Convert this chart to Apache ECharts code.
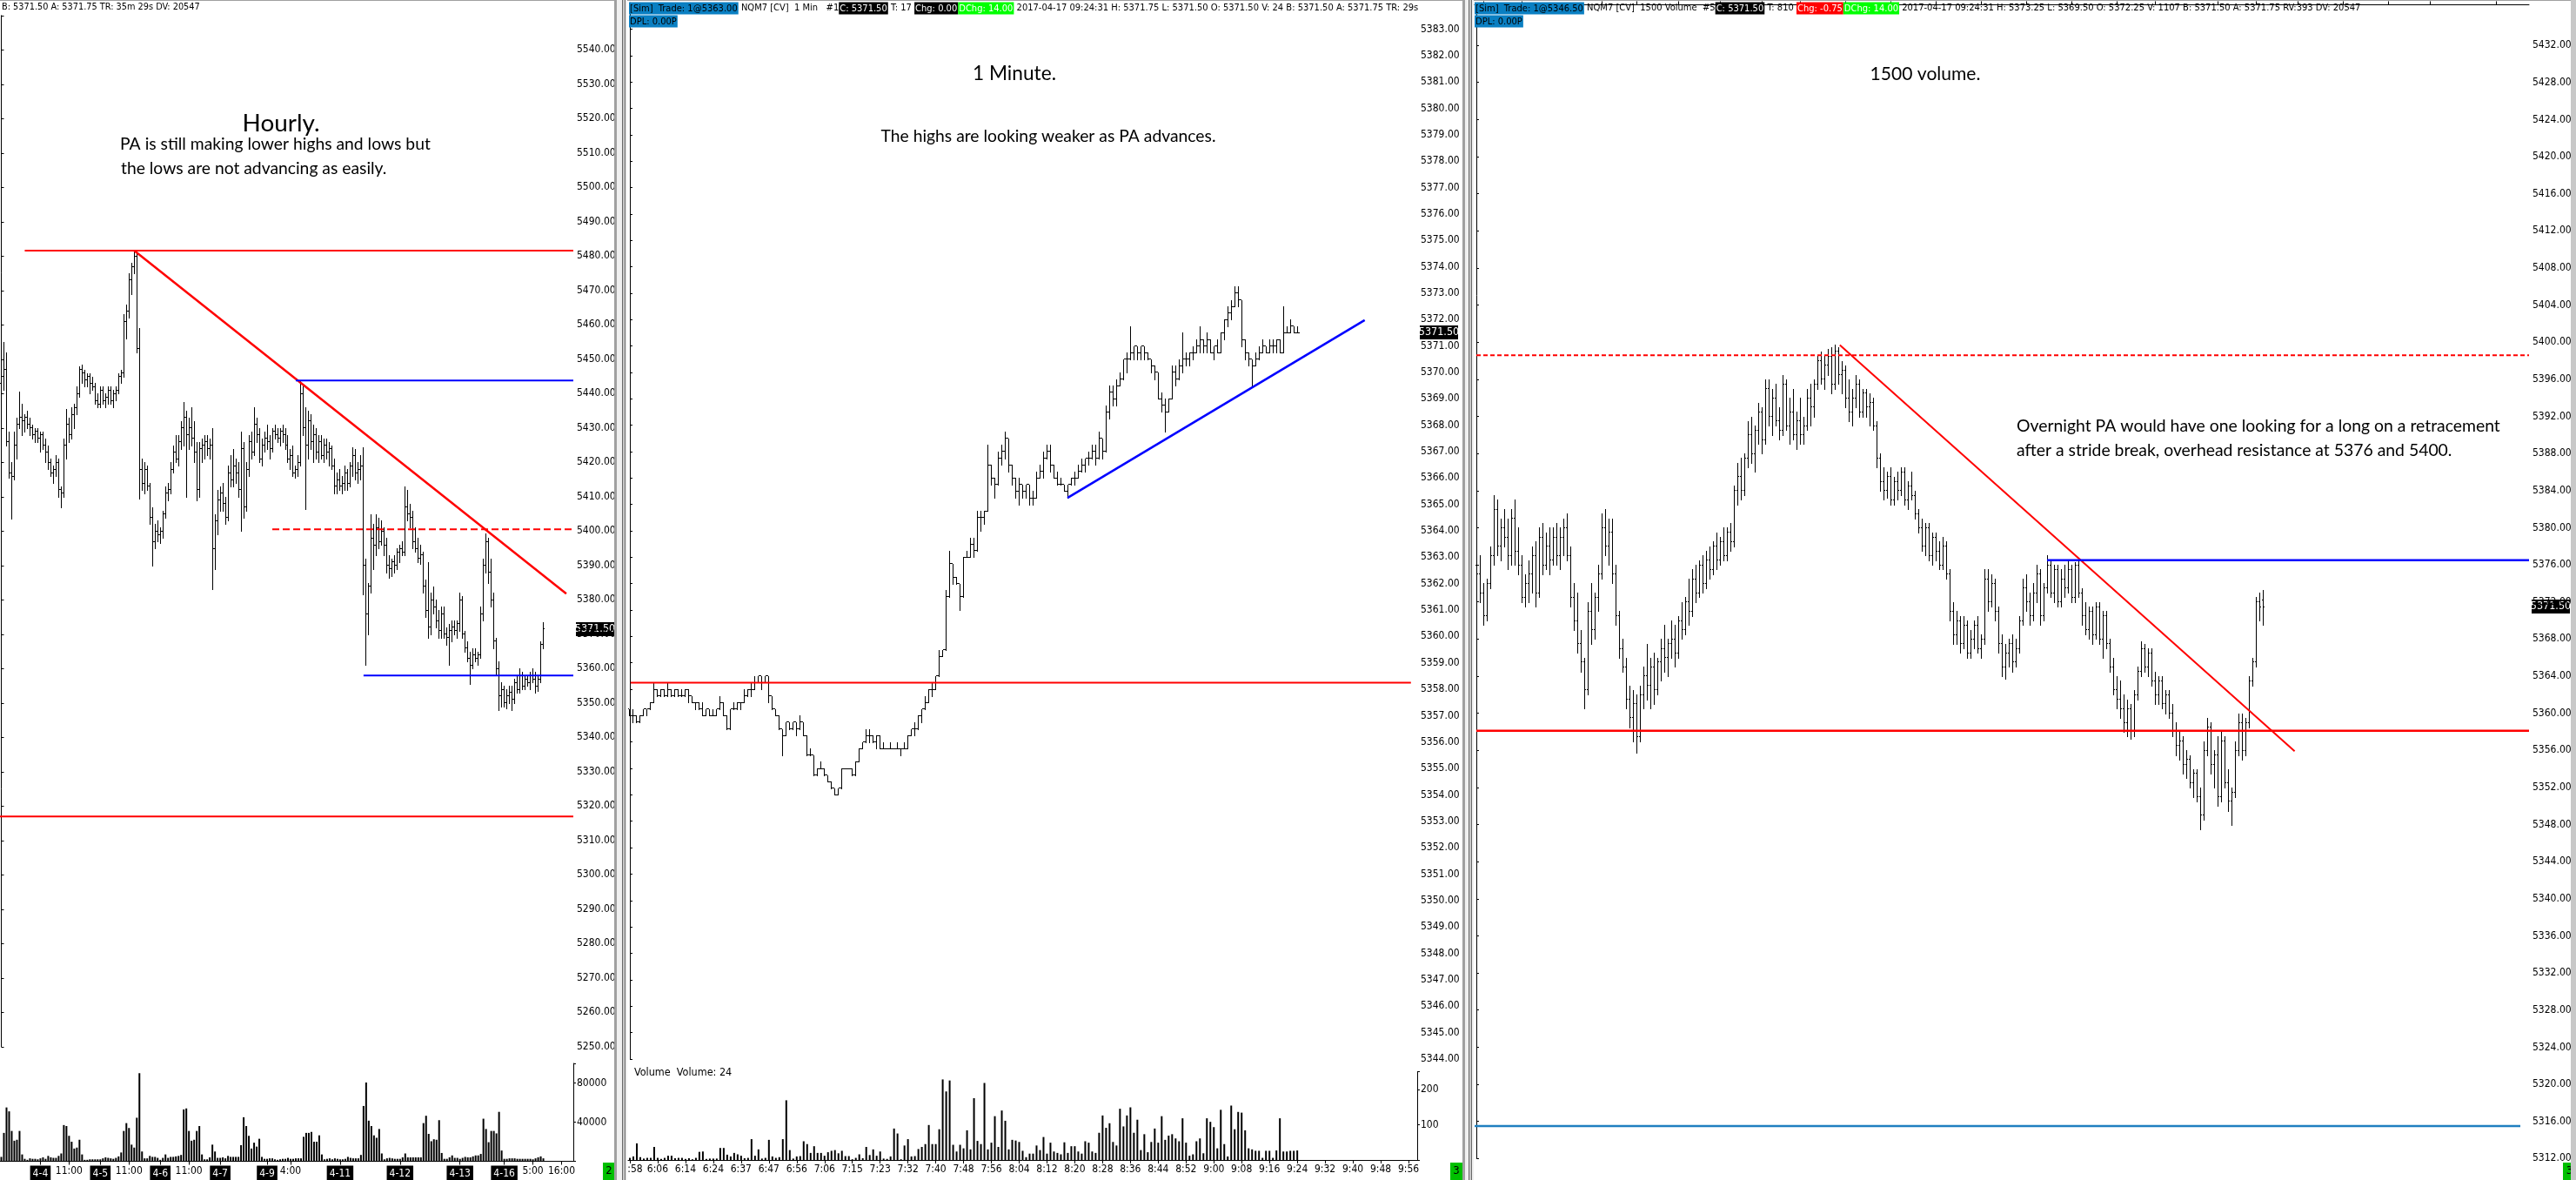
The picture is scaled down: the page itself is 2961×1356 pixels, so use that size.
<!DOCTYPE html>
<html><head><meta charset="utf-8">
<script src="https://cdn.jsdelivr.net/npm/echarts@6/dist/echarts.min.js"></script>
<style>html,body{margin:0;padding:0;background:#fff;overflow:hidden}#c{width:2961px;height:1356px}</style>
</head><body><div id="c"></div><script>
// ---------------- DATA ----------------
// Panel 1: hourly bars [open, high, low, close]
const hourlyBars = [
[5443,5446,5440,5445],[5445,5455,5441,5447],[5447,5452,5425,5426],[5426,5429,5415.5,5417],[5417,5420,5403.5,5416],
[5416,5429,5415,5425],[5425,5433,5421,5431],[5431,5440.5,5430,5433],[5433,5437,5428,5432],[5432,5434,5429,5433],
[5433,5435,5430,5431],[5431,5433,5428,5430],[5430,5431,5427,5428],[5428,5430,5426,5429],[5429,5430,5426,5427],
[5427,5429,5423,5428],[5428,5429,5424,5425],[5425,5427,5420,5423],[5423,5425,5418,5420],[5420,5421,5416,5417],
[5417,5419,5414,5418],[5418,5422,5416,5420],[5420,5421,5410,5412],[5412,5413,5407,5411],[5411,5427,5410,5425],
[5425,5435.5,5421,5431],[5431,5433,5426,5428],[5428,5436,5427,5434],[5434,5437,5430,5436],[5436,5442,5434,5440],
[5440,5448,5439,5447],[5447,5448.5,5443,5446],[5446,5447,5442,5444],[5444,5446,5442,5445],[5445,5446,5440,5443],
[5443,5445,5441,5442],[5442,5443,5437,5438],[5438,5440,5436,5437],[5437,5442,5436,5441],[5441,5442,5437,5438],
[5438,5440,5436,5439],[5439,5442,5437,5441],[5441,5442,5437,5438],[5438,5441,5436,5440],[5440,5442,5438,5441],
[5441,5446,5440,5445],[5445,5447,5443,5446],[5446,5463,5445,5461],[5461,5466,5456,5464],[5464,5475,5462,5473],
[5473,5478,5469,5477],[5477,5481.75,5475,5480],[5480,5481,5452,5453],[5453,5459,5409.5,5418],[5418,5421,5412,5414],
[5414,5420,5411,5418],[5418,5419,5412,5413],[5413,5414,5402,5404],[5404,5407,5390,5397],[5397,5402,5395,5400],
[5400,5403,5397,5399],[5399,5401,5396.5,5400],[5400,5406,5398,5405],[5405,5413,5404,5411],[5411,5414,5409,5412],
[5412,5420,5411,5418],[5418,5425,5417,5423],[5423,5428,5420,5421],[5421,5428,5419,5426],[5426,5432,5424,5430],
[5430,5437.5,5425,5433],[5433,5435,5410,5428],[5428,5433,5424,5430],[5430,5436,5425,5427],[5427,5432,5420,5423],
[5423,5426,5409,5412],[5412,5426,5410,5424],[5424,5427,5420,5425],[5425,5428,5421,5426],[5426,5428,5422,5424],
[5424,5427,5421,5425],[5425,5430,5383,5395],[5395,5405,5389,5403],[5403,5412,5399,5409],[5409,5413,5406,5411],
[5411,5414,5406,5408],[5408,5410,5402,5404],[5404,5419,5403,5417],[5417,5422,5413,5415],[5415,5424,5413,5419],
[5419,5421,5414,5417],[5417,5420,5410,5412],[5412,5429,5400,5424],[5424,5426,5404,5407],[5407,5420,5406,5418],
[5418,5428,5416,5426],[5426,5429,5421,5423],[5423,5436,5422,5431],[5431,5433,5426,5428],[5428,5430,5420,5421],
[5421,5427,5419,5425],[5425,5429,5423,5427],[5427,5431,5424,5426],[5426,5428,5421,5424],[5424,5430,5423,5429],
[5429,5431,5427,5428],[5428,5430,5426,5427],[5427,5430,5425,5429],[5429,5431,5426,5428],[5428,5430,5424,5425],
[5425,5428,5420,5421],[5421,5424,5418,5422],[5422,5425,5416,5417],[5417,5419,5415.5,5418],[5418,5422,5416,5420],
[5420,5443.75,5419,5440],[5440,5442,5428,5430],[5430,5436,5406.5,5425],[5425,5435,5421,5432],[5432,5434,5424,5426],
[5426,5431,5420,5428],[5428,5430,5421,5423],[5423,5428,5420,5426],[5426,5428,5421,5422],[5422,5427,5420,5425],
[5425,5427,5421,5423],[5423,5426,5419,5424],[5424,5425,5418,5419],[5419,5421,5411,5413],[5413,5417,5411,5415],
[5415,5418,5412,5413],[5413,5416,5411,5414],[5414,5419,5412,5417],[5417,5418,5412,5414],[5414,5420,5413,5419],
[5419,5424.5,5416,5422],[5422,5424,5415,5417],[5417,5420,5414,5418],[5418,5422,5415,5419],[5419,5424.5,5381.5,5390],
[5390,5392,5361,5376],[5376,5385,5370,5384],[5384,5405,5382,5398],[5398,5402,5389,5396],[5396,5405,5393,5401],
[5401,5404,5395,5397],[5397,5403,5396,5400],[5400,5401,5393,5396],[5396,5398,5388,5390],[5390,5393,5386.5,5389],
[5389,5392,5387,5391],[5391,5393,5388,5390],[5390,5395,5389,5394],[5394,5396,5391,5395],[5395,5397,5393,5394],
[5394,5413,5393,5407],[5407,5412,5403,5405],[5405,5408,5401,5404],[5404,5406,5395,5397],[5397,5401,5394,5395],
[5395,5398,5391,5392],[5392,5396,5390.5,5393],[5393,5394,5382,5384],[5384,5386,5375,5377],[5377,5391,5369,5372],
[5372,5382,5370,5380],[5380,5384,5376,5378],[5378,5380,5372,5374],[5374,5377,5369,5371],[5371,5378,5369,5376],
[5376,5378,5369,5370],[5370,5372,5367,5369],[5369,5373,5361,5371],[5371,5374,5368,5372],[5372,5374,5370,5371],
[5371,5374,5369,5373],[5373,5382,5371,5380],[5380,5381,5369,5370],[5370,5371,5365,5366],[5366,5368,5362,5363],
[5363,5365,5355.5,5361],[5361,5366,5360,5364],[5364,5366,5362,5363],[5363,5365,5361,5364],[5364,5378,5363,5376],
[5376,5392,5374,5390],[5390,5399.25,5388,5397],[5397,5398,5385,5388],[5388,5392,5378,5380],[5380,5382,5366,5368],
[5368,5369,5358,5360],[5360,5362,5348,5352],[5352,5356,5349,5354],[5354,5355,5349,5350],[5350,5354,5348.5,5352],
[5352,5355,5350,5353],[5353,5355,5348,5351],[5351,5357,5350,5356],[5356,5358,5353,5354],[5354,5360,5353,5358],
[5358,5359,5354,5355],[5355,5358,5354,5357],[5357,5358,5355,5356],[5356,5359,5354,5358],[5358,5360,5356,5357],
[5357,5359,5353,5355],[5355,5358,5353.5,5357],[5357,5368,5356,5367],[5367,5373.5,5366,5371.5]
];
const hourlyVolume = [
4500,29000,55000,51000,31000,21000,22000,31000,7000,2500,1500,3000,2500,2500,2000,3000,4000,2500,5500,4000,
3500,3500,5500,8000,37000,36000,26000,20000,13000,14000,22000,7000,1500,1500,2000,2000,2000,2000,2000,3000,
4000,3500,3000,2500,3500,5000,9000,31000,39000,34000,17000,14000,44500,90000,10000,3000,3000,5500,4500,4500,
3500,1500,3500,7000,3500,4500,4500,5000,5500,6500,53000,54000,31000,21000,22000,31000,36000,7000,2000,2000,
4000,17000,10000,3500,3500,4000,3000,5500,4500,4500,4500,4500,16500,45000,36000,26000,13000,19000,15000,23000,
4500,2500,2500,3000,3000,2000,1500,2000,2500,2500,3500,2500,2500,3000,3000,3000,25000,29000,29000,30000,
20000,20000,26500,7000,2000,2500,3000,2000,3000,2500,2000,2000,2500,4500,3500,3000,3000,3000,6500,56500,
80500,41500,36000,26500,24000,33000,8000,2000,3000,3500,3000,2500,2500,2500,4000,8000,4000,4000,4000,4000,
4000,4000,39000,46500,28000,20500,22500,22000,42000,8500,2500,2500,4000,6000,3500,3500,2500,3500,4500,4000,
4000,5000,6000,6000,7500,43500,33000,19500,31000,31000,28500,50500,11000,2500,2500,3000,3000,3000,2500,2500,
2500,2500,2500,2500,2000,3000,4000,5000,3000
];
const hourlyTickLabels = [[15,'4-4'],[26,'11:00'],[38,'4-5'],[49,'11:00'],[61,'4-6'],[72,'11:00'],[84,'4-7'],[102,'4-9'],
[111,'4:00'],[130,'4-11'],[153,'4-12'],[176,'4-13'],[193,'4-16'],[204,'5:00'],[215,'16:00']];

// Panel 2: 1 minute bars [open, high, low, close]
const minuteBars = [
[5357.25,5357.25,5357,5357],[5357,5357.25,5356.75,5357],[5357,5357,5356.75,5356.75],[5356.75,5357,5356.75,5357],[5357,5357.25,5357,5357.25],
[5357.25,5357.25,5357,5357.25],[5357.25,5357.5,5357.25,5357.5],[5357.5,5358.25,5357.5,5358],[5358,5358,5357.75,5357.75],[5357.75,5358,5357.75,5358],
[5358,5358,5357.75,5357.75],[5357.75,5358.25,5357.75,5358],[5358,5358,5357.75,5357.75],[5357.75,5358,5357.75,5358],[5358,5358,5357.75,5357.75],
[5357.75,5358,5357.75,5357.75],[5357.75,5358,5357.75,5358],[5358,5358,5357.5,5357.75],[5357.75,5357.75,5357.5,5357.5],[5357.5,5357.5,5357.25,5357.5],
[5357.5,5357.5,5357.25,5357.25],[5357.25,5357.5,5357,5357],[5357,5357.25,5357,5357.25],[5357.25,5357.25,5357,5357],[5357,5357.25,5357,5357],
[5357,5357.25,5357,5357.25],[5357.25,5357.75,5357.25,5357.5],[5357.5,5357.5,5357,5357],[5357,5357,5356.5,5356.5],[5356.5,5357.25,5356.5,5357.25],
[5357.25,5357.5,5357.25,5357.25],[5357.25,5357.5,5357.25,5357.5],[5357.5,5357.5,5357.25,5357.5],[5357.5,5358,5357.5,5357.75],[5357.75,5358,5357.75,5358],
[5358,5358.25,5357.75,5358],[5358,5358.5,5358,5358.25],[5358.25,5358.5,5358.25,5358.5],[5358.5,5358.5,5358,5358.25],[5358.25,5358.5,5358.25,5358.5],
[5358.5,5358.5,5357.5,5357.75],[5357.75,5357.75,5357.25,5357.25],[5357.25,5357.25,5357,5357],[5357,5357,5356.5,5356.5],[5356.5,5356.5,5355.5,5356.25],
[5356.25,5356.75,5356.25,5356.75],[5356.75,5356.75,5356.5,5356.5],[5356.5,5356.75,5356.5,5356.75],[5356.75,5356.75,5356.25,5356.5],[5356.5,5357,5356.5,5356.75],
[5356.75,5356.75,5356.25,5356.25],[5356.25,5356.25,5355.5,5355.5],[5355.5,5355.75,5355.5,5355.5],[5355.5,5355.5,5354.75,5354.75],[5354.75,5355,5354.75,5355],
[5355,5355.25,5355,5355],[5355,5355,5354.75,5354.75],[5354.75,5354.75,5354.5,5354.5],[5354.5,5354.5,5354.25,5354.25],[5354.25,5354.25,5354,5354],
[5354,5354.25,5354,5354.25],[5354.25,5355,5354.25,5355],[5355,5355,5355,5355],[5355,5355,5355,5355],[5355,5355,5354.75,5354.75],
[5354.75,5355.25,5354.75,5355.25],[5355.25,5355.75,5355.25,5355.75],[5355.75,5356,5355.75,5356],[5356,5356.5,5356,5356.25],[5356.25,5356.5,5356,5356.25],
[5356.25,5356.25,5356,5356],[5356,5356.25,5355.75,5356.25],[5356.25,5356.25,5355.75,5355.75],[5355.75,5356,5355.75,5355.75],[5355.75,5355.75,5355.75,5355.75],
[5355.75,5356,5355.75,5355.75],[5355.75,5355.75,5355.75,5355.75],[5355.75,5356,5355.75,5355.75],[5355.75,5355.75,5355.5,5355.75],[5355.75,5356,5355.75,5355.75],
[5355.75,5356.25,5355.75,5356.25],[5356.25,5356.5,5356.25,5356.5],[5356.5,5356.75,5356.25,5356.5],[5356.5,5357,5356.5,5357],[5357,5357.25,5356.75,5357.25],
[5357.25,5357.75,5357.25,5357.5],[5357.5,5358,5357.5,5358],[5358,5358.25,5357.75,5358],[5358,5358.5,5358,5358.5],[5358.5,5359.5,5358.5,5359.25],
[5359.25,5359.5,5359.25,5359.5],[5359.5,5361.75,5359.5,5361.5],[5361.5,5363.25,5361.5,5362.75],[5362.75,5362.75,5362,5362.25],[5362.25,5362.25,5362,5362],
[5362,5362,5361,5361.5],[5361.5,5363,5361.5,5363],[5363,5363.25,5363,5363],[5363,5363.75,5363,5363.5],[5363.5,5363.75,5363,5363.25],
[5363.25,5364.75,5363.25,5364.5],[5364.5,5364.75,5364,5364.5],[5364.5,5364.75,5364.25,5364.75],[5364.75,5367.25,5364.75,5366.5],[5366.5,5366.5,5365.75,5366],
[5366,5366,5365.25,5365.75],[5365.75,5367,5365.75,5366.75],[5366.75,5367.25,5366.5,5367],[5367,5367.75,5366.75,5367.5],[5367.5,5367.5,5366.25,5366.5],
[5366.5,5366.5,5365.75,5366],[5366,5366,5365.25,5365.5],[5365.5,5366,5365,5365.75],[5365.75,5365.75,5365.25,5365.5],[5365.5,5365.75,5365.25,5365.75],
[5365.75,5365.75,5365,5365.25],[5365.25,5365.5,5365,5365.25],[5365.25,5366.25,5365.25,5366],[5366,5366.5,5366,5366.25],[5366.25,5367,5366,5366.75],
[5366.75,5367.25,5366.75,5367],[5367,5367.25,5366.25,5366.5],[5366.5,5366.5,5366,5366],[5366,5366.25,5365.75,5365.75],[5365.75,5366,5365.75,5365.75],
[5365.75,5365.75,5365.5,5365.5],[5365.5,5365.75,5365.25,5365.75],[5365.75,5366,5365.75,5366],[5366,5366.25,5365.75,5366],[5366,5366.5,5366,5366.25],
[5366.25,5366.75,5366.25,5366.5],[5366.5,5366.75,5366.25,5366.75],[5366.75,5367,5366.5,5366.75],[5366.75,5367.25,5366.75,5367],[5367,5367.25,5366.5,5366.75],
[5366.75,5367.75,5366.75,5367.5],[5367.5,5367.5,5366.75,5367],[5367,5368.75,5367,5368.5],[5368.5,5369.5,5368.25,5369.25],[5369.25,5369.5,5368.75,5369],
[5369,5369.75,5368.75,5369.5],[5369.5,5370,5369.5,5369.75],[5369.75,5370.5,5369.75,5370.5],[5370.5,5370.75,5370,5370.5],[5370.5,5371.75,5370.5,5370.75],
[5370.75,5371,5370.5,5371],[5371,5371,5370.5,5370.75],[5370.75,5371,5370.5,5371],[5371,5371,5370.5,5370.75],[5370.75,5370.75,5370.5,5370.5],
[5370.5,5370.5,5370,5370.25],[5370.25,5370.25,5369.75,5370],[5370,5370,5369,5369],[5369,5369.25,5368.5,5368.75],[5368.75,5369,5367.75,5368.5],
[5368.5,5369,5368.5,5369],[5369,5370.25,5369,5370],[5370,5370.25,5369.5,5369.75],[5369.75,5370.5,5369.75,5370.25],[5370.25,5371.5,5370,5370.5],
[5370.5,5370.75,5370.25,5370.5],[5370.5,5370.75,5370.25,5370.75],[5370.75,5371,5370.5,5370.75],[5370.75,5371.25,5370.75,5371],[5371,5371.75,5370.75,5371.25],
[5371.25,5371.25,5370.75,5371],[5371,5371.5,5370.75,5371.25],[5371.25,5371.25,5370.75,5370.75],[5370.75,5371,5370.5,5371],[5371,5371.25,5370.75,5370.75],
[5370.75,5371.5,5370.75,5371.5],[5371.5,5372,5371.25,5372],[5372,5372.5,5371.75,5372.25],[5372.25,5372.75,5372,5372.5],[5372.5,5373.25,5372.5,5373],
[5373,5373.25,5372.5,5372.75],[5372.75,5372.75,5371,5371.25],[5371.25,5371.25,5370.5,5370.75],[5370.75,5370.75,5370.25,5370.5],[5370.5,5370.5,5369.5,5370.25],
[5370.25,5370.75,5370.25,5370.5],[5370.5,5371,5370.5,5370.75],[5370.75,5371.25,5370.75,5371],[5371,5371,5370.75,5370.75],[5370.75,5371.25,5370.75,5371],
[5371,5371.25,5370.75,5371],[5371,5371.25,5370.75,5371.25],[5371.25,5371.25,5370.75,5370.75],[5370.75,5372.5,5370.75,5371.5],[5371.5,5371.75,5371.5,5371.5],
[5371.5,5372,5371.5,5371.75],[5371.75,5371.75,5371.5,5371.5],[5371.5,5371.75,5371.5,5371.5]
];
const minuteVolume = [
6,10,47,8,4,6,6,37,6,3,6,12,12,5,6,6,3,5,2,6,23,24,3,4,4,4,34,34,15,10,20,16,12,5,6,59,12,30,4,6,
57,10,6,8,59,169,28,4,10,11,53,45,20,39,20,20,12,22,26,28,19,26,11,11,2,6,16,5,37,14,30,12,24,4,3,10,89,75,2,41,
59,10,11,31,37,45,99,45,45,87,228,194,225,43,24,43,33,84,30,175,54,45,218,30,49,124,37,140,111,30,57,55,51,26,8,18,18,41,28,65,
18,49,24,20,16,50,20,39,39,24,18,53,49,24,20,77,126,91,104,51,41,145,95,126,149,77,114,28,73,22,51,89,49,124,57,69,73,61,53,118,
49,12,16,53,61,19,118,108,93,33,142,45,10,154,87,136,134,84,33,30,26,26,6,26,26,6,27,118,24,24,26,26,27
];
const minuteTickLabels = [':58','6:06','6:14','6:24','6:37','6:47','6:56','7:06','7:15','7:23','7:32','7:40','7:48','7:56','8:04',
'8:12','8:20','8:28','8:36','8:44','8:52','9:00','9:08','9:16','9:24','9:32','9:40','9:48','9:56'];

// Panel 3: 1500 volume bars [open, high, low, close]
const volBars = [
[5376,5378.5,5374,5375],[5375,5377,5372,5373],[5373,5374,5369.5,5370.5],[5370.5,5374.5,5370,5374],[5374,5378,5373.5,5377],
[5377,5383.5,5376,5382],[5382,5383,5377,5378],[5378,5381,5376.5,5380],[5380,5382,5378,5379],[5379,5381,5375.5,5377],
[5377,5382,5376,5381],[5381,5383,5376,5377.5],[5377.5,5380,5375,5376],[5376,5377,5372,5372.5],[5372.5,5375,5371.5,5374],
[5374,5376.5,5372,5375],[5375,5378,5373,5377],[5377,5378.5,5371.5,5373],[5373,5380,5372.5,5379],[5379,5380.5,5375,5376],
[5376,5379.5,5375.5,5378],[5378,5380,5375,5376.5],[5376.5,5380,5376,5379],[5379,5380.5,5376,5377],[5377,5380,5375.5,5379],
[5379,5381,5377,5380],[5380,5381.5,5376.5,5377],[5377,5378,5371.5,5372.5],[5372.5,5374,5369,5370],[5370,5373,5366.5,5367.5],
[5367.5,5369,5364.5,5365.5],[5365.5,5366,5360.5,5362.5],[5362.5,5372,5362,5371],[5371,5374,5367.5,5369],[5369,5373,5368,5372.5],
[5372.5,5376,5371,5375],[5375,5381.5,5374.5,5380],[5380,5382,5377,5378],[5378,5381,5376,5379.5],[5379.5,5381,5374,5375],
[5375,5376,5369.5,5370.5],[5370.5,5371,5366,5367],[5367,5368,5364.5,5365],[5365,5366,5360.5,5361.5],[5361.5,5363,5358.5,5359.5],
[5359.5,5362.5,5357,5361],[5361,5362,5355.75,5357.5],[5357.5,5363,5357,5362],[5362,5365,5360.5,5364],[5364,5367.5,5361.5,5363],
[5363,5366,5360.5,5365],[5365,5366.5,5361,5362.5],[5362.5,5366,5362,5365.5],[5365.5,5368,5363.5,5367],[5367,5369.5,5364.5,5366],
[5366,5368,5364,5367.5],[5367.5,5370,5366,5368],[5368,5369.5,5365,5366.5],[5366.5,5370.5,5366,5370],[5370,5372,5368,5369],
[5369,5372.5,5368.5,5372],[5372,5374.5,5369.5,5371],[5371,5375.5,5370.5,5374.5],[5374.5,5376,5372,5373],[5373,5376.5,5372.5,5376],
[5376,5377,5373,5374],[5374,5377.5,5373.5,5376.5],[5376.5,5378,5374.5,5375.5],[5375.5,5378.5,5375,5378],[5378,5379.5,5375.5,5376.5],
[5376.5,5379,5376,5378.5],[5378.5,5380,5376.5,5377],[5377,5380,5376.5,5379.5],[5379.5,5380.5,5377.5,5378.5],[5378.5,5384.5,5378,5384],
[5384,5387,5382.5,5385.5],[5385.5,5387.5,5383,5384],[5384,5388,5383.5,5387.5],[5387.5,5391.5,5386.5,5390],[5390,5392,5387,5388],
[5388,5391,5386,5390.5],[5390.5,5393.5,5389,5392.5],[5392.5,5393,5388,5389.5],[5389.5,5396,5389,5395],[5395,5396,5391,5392],
[5392,5395,5390,5394],[5394,5395.5,5391,5391.5],[5391.5,5393,5389.5,5390.5],[5390.5,5396.5,5390,5395.5],[5395.5,5396,5390.5,5391],
[5391,5394,5389,5392.5],[5392.5,5395,5389.5,5390],[5390,5392.5,5388.5,5391.5],[5391.5,5394,5389,5390],[5390,5392,5389,5391],
[5391,5395,5390.5,5394],[5394,5395.5,5391,5393],[5393,5396,5392,5395.5],[5395.5,5398.5,5395,5398],[5398,5399,5395.5,5396],
[5396,5398.5,5395,5397.5],[5397.5,5399.25,5396.5,5398.5],[5398.5,5399.5,5394.5,5395.5],[5395.5,5399.75,5395,5399],[5399,5399.5,5395.5,5396.5],
[5396.5,5398,5394.5,5397],[5397,5397.5,5393,5394],[5394,5396,5391.5,5392.5],[5392.5,5395,5391,5394],[5394,5396.5,5393,5395.5],
[5395.5,5396,5392,5392.5],[5392.5,5395,5392,5394.5],[5394.5,5395,5392,5393],[5393,5394.5,5391,5393.5],[5393.5,5394,5390.5,5391],
[5391,5391.5,5386.5,5387.5],[5387.5,5388,5384,5385],[5385,5386.5,5383,5384],[5384,5386,5383.25,5385.5],[5385.5,5386.5,5382.5,5383],
[5383,5385.5,5382.5,5385],[5385,5386,5383,5384],[5384,5386.5,5383.5,5386],[5386,5386.5,5382.5,5383],[5383,5385,5382,5384.5],
[5384.5,5386,5383,5383.5],[5383.5,5384,5381,5381.5],[5381.5,5382,5379.5,5380],[5380,5381,5377.5,5378],[5378,5380.5,5377,5380],
[5380,5380.5,5376.5,5377],[5377,5379.5,5376,5379],[5379,5379.5,5376.5,5377.5],[5377.5,5378.5,5375.5,5376],[5376,5379,5375.5,5378],
[5378,5378.5,5374.5,5375],[5375,5375.5,5370,5371],[5371,5372,5367.5,5368.5],[5368.5,5371,5367.5,5370],[5370,5370.5,5366.5,5367.5],
[5367.5,5370.5,5367,5369.5],[5369.5,5370,5366,5366.5],[5366.5,5369,5366,5368],[5368,5370,5367,5369.5],[5369.5,5370.5,5366.5,5367],
[5367,5368.5,5366,5368],[5368,5375.5,5367.5,5374.5],[5374.5,5375.5,5371,5372],[5372,5375,5371.5,5374],[5374,5374.5,5370,5371],
[5371,5371.5,5366.5,5367.5],[5367.5,5368.5,5364,5365],[5365,5367.5,5363.75,5366.5],[5366.5,5368,5365,5367.5],[5367.5,5368.5,5364.5,5365.5],
[5365.5,5368,5365,5367],[5367,5370.5,5366.5,5370],[5370,5374.5,5369.5,5373.5],[5373.5,5375,5371,5372],[5372,5373,5369.5,5370.5],
[5370.5,5374,5370,5373],[5373,5376,5372,5375],[5375,5375.5,5369.5,5370.5],[5370.5,5374,5370,5373.5],[5373.5,5377,5373,5376],
[5376,5376.5,5372.5,5373],[5373,5376,5372,5375.5],[5375.5,5376,5371.5,5372],[5372,5375.5,5371.5,5374.5],[5374.5,5376,5372.5,5373.5],
[5373.5,5376.5,5373,5375.5],[5375.5,5376,5372,5372.5],[5372.5,5376.25,5372,5376],[5376,5376.5,5372.5,5373],[5373,5373.5,5369.5,5370.5],
[5370.5,5372,5368.5,5369],[5369,5371.5,5368,5371],[5371,5371.5,5367.5,5368.5],[5368.5,5372,5368,5371.5],[5371.5,5372,5367.5,5368],
[5368,5371,5366,5370.5],[5370.5,5371,5367,5367.5],[5367.5,5368,5364.5,5365],[5365,5366,5362,5362.5],[5362.5,5364,5360.5,5361.5],
[5361.5,5363.5,5359.5,5360.5],[5360.5,5362,5358,5359],[5359,5361.5,5357.5,5360.5],[5360.5,5361,5357.25,5358],[5358,5362.5,5357.5,5362],
[5362,5365,5361.5,5364.5],[5364.5,5367.75,5364,5367],[5367,5367.5,5364.5,5365],[5365,5367,5364,5366.5],[5366.5,5367,5363,5363.5],
[5363.5,5364.5,5361,5362],[5362,5364,5361,5363.5],[5363.5,5364,5360.5,5361],[5361,5362.5,5360,5362],[5362,5362.5,5359.5,5360],
[5360,5361,5357.5,5358],[5358,5359,5355.5,5356.5],[5356.5,5358,5355,5357],[5357,5357.5,5353.5,5354.5],[5354.5,5356,5353,5355],
[5355,5355.5,5352,5352.5],[5352.5,5354,5351,5353.5],[5353.5,5354,5350.5,5351],[5351,5352,5347.5,5349],[5349,5357,5348.5,5356],
[5356,5359.5,5355.5,5358.5],[5358.5,5359,5353.5,5354.5],[5354.5,5356,5352,5355.5],[5355.5,5357.5,5350,5351],[5351,5358,5350.5,5357],
[5357,5357.5,5352,5352.5],[5352.5,5354,5349.5,5350.5],[5350.5,5352,5348,5351.5],[5351.5,5357,5351,5356],[5356,5360,5355.5,5359],
[5359,5360,5355,5356],[5356,5359.5,5355.5,5359],[5359,5364,5358.5,5363.5],[5363.5,5366,5363,5365.5],[5365.5,5372.5,5365,5372],
[5372,5373,5370,5371.5],[5372.25,5373.25,5369.5,5371.5]
];
const volTickLabels = [[2,'12:37'],[13,'15:39:45'],[36,'4-13'],[46,'6:28:57'],[58,'9:30:25'],[70,'9:44:24'],[82,'10:00'],
[93,'10:24:51'],[106,'11:07:57'],[119,'12:09:13'],[132,'12:50:47'],[145,'13:26:03'],[158,'14:08:04'],[171,'14:53:48'],
[184,'15:34:31'],[195,'15:50'],[213,'4-16'],[224,'7:50:56'],[236,'11:06:27'],[249,'14:02:36'],[262,'16:58:45'],[274,'19:54:54'],[293,'4-18']];

// drawn lines: [x1, price1, x2, price2] in bar-index / price units
const hourlyLines = [
  {pts:[9,5481.6,219.5,5481.6], color:'#ff0000', w:2},
  {pts:[51,5481.6,216.8,5381.8], color:'#ff0000', w:2.5},
  {pts:[113,5443.8,219.5,5443.8], color:'#0000ff', w:2},
  {pts:[104,5400.5,219.5,5400.5], color:'#ff0000', w:2, dash:[8,4]},
  {pts:[139,5358,219.5,5358], color:'#0000ff', w:2},
  {pts:[-0.5,5317,219.5,5317], color:'#ff0000', w:2}
];
const minuteLines = [
  {pts:[0.2,5358.25,224.7,5358.25], color:'#ff0000', w:2},
  {pts:[125.9,5365.25,211.4,5371.98], color:'#0000ff', w:2.5}
];
const volLines = [
  {pts:[0,5398.6,302.5,5398.6], color:'#ff0000', w:2, dash:[5,3]},
  {pts:[104.45,5399.7,235.15,5355.9], color:'#ff0000', w:2},
  {pts:[164,5376.5,302.5,5376.5], color:'#0000ff', w:2.5},
  {pts:[0,5358.1,302.5,5358.1], color:'#ff0000', w:2.5},
  {pts:[-0.5,5315.5,300,5315.5], color:'#1f7fc0', w:2.5}
];
const lastPrice = 5371.5;

// ---------------- LAYOUT ----------------
const N1 = 220, N2 = 227, N3 = 303;
const UI = '"Liberation Sans Narrow","DejaVu Sans Condensed","Liberation Sans",sans-serif';
const NOTE = 'Lato,"Open Sans",sans-serif';
const YFS = 12, XFS = 12;

function ohlcSeries(bars, xi, yi, tick) {
  return {
    type:'custom', xAxisIndex:xi, yAxisIndex:yi, clip:true, silent:true, z:3,
    data: bars.map((b,i)=>[i,b[0],b[1],b[2],b[3]]),
    encode:{x:0,y:[1,2,3,4]},
    renderItem(params, api){
      const i = api.value(0);
      const o = api.coord([i, api.value(1)]), h = api.coord([i, api.value(2)]);
      const l = api.coord([i, api.value(3)]), c = api.coord([i, api.value(4)]);
      const x = Math.round(o[0] - 0.5);
      const y1 = Math.round(h[1]); const y2 = Math.max(Math.round(l[1]) + 1, y1 + 1);
      const oy = Math.round(o[1] - 0.5), cy = Math.round(c[1] - 0.5);
      return {type:'group', children:[
        {type:'rect', shape:{x:x, y:y1, width:1, height:y2-y1}, style:{fill:'#000'}},
        {type:'rect', shape:{x:x-tick, y:oy, width:tick, height:1}, style:{fill:'#000'}},
        {type:'rect', shape:{x:x+1, y:cy, width:tick, height:1}, style:{fill:'#000'}}
      ]};
    }
  };
}
function lineSeries(list, xi, yi) {
  return list.map(d => ({
    type:'line', xAxisIndex:xi, yAxisIndex:yi, symbol:'none', silent:true, z:4, clip:true,
    data:[[d.pts[0], d.pts[1]],[d.pts[2], d.pts[3]]],
    lineStyle:{color:d.color, width:d.w, type: d.dash || 'solid'}
  }));
}
const isDate = s => /^\d+-\d+$/.test(s);
const labelRich = {
  d:{backgroundColor:'#000', color:'#fff', fill:'#fff', padding:[3,3,2,3], fontFamily:UI, fontSize:XFS},
  t:{color:'#000', fontFamily:UI, fontSize:XFS},
  p:{color:'#000', fontFamily:UI, fontSize:XFS, padding:[0,0,0,12]}
};
function catAxis(gridIndex, n, labelMap, offset) {
  return {
    type:'category', gridIndex, data:Array.from({length:n},(_,i)=>String(i)), boundaryGap:true,
    offset: offset || 0,
    axisLine:{show:true, lineStyle:{color:'#000', width:1}},
    axisTick:{show:true, alignWithLabel:true, length:4, lineStyle:{color:'#000'}, interval:(i)=>labelMap.has(i)},
    axisLabel:{show:true, interval:(i)=>labelMap.has(i), margin:5, fontFamily:UI, fontSize:XFS, color:'#000', rich:labelRich,
      formatter:(v,i)=>{ const s = labelMap.get(Number(v)); if (s == null) return ''; if (isDate(s)) return '{d|'+s+'}'; if (s === ':58') return '{p|:58}'; return '{t|'+s+'}'; }},
    splitLine:{show:false}
  };
}
function valX(gridIndex, n) {
  return {type:'value', gridIndex, min:-0.5, max:n-0.5, show:false, splitLine:{show:false}};
}
function priceAxis(gridIndex, min, max, interval, fmt) {
  return {
    type:'value', gridIndex, position:'right', min, max, interval, scale:true,
    axisLine:{show:true, lineStyle:{color:'#000', width:1}},
    axisTick:{show:true, length:3, lineStyle:{color:'#000'}},
    axisLabel:{show:true, margin:4, fontFamily:UI, fontSize:YFS, color:'#000', formatter:fmt},
    splitLine:{show:false}
  };
}

const hourlyMap = new Map(hourlyTickLabels);
const minuteMap = new Map(minuteTickLabels.map((s,k)=>[k*8, s]));
const volMap = new Map(volTickLabels);

const grids = [
  {left:0, width:659, top:17.8, height:1185.0},       // p1 price 5550..5250
  {left:0, width:659, top:1222, height:112.5},        // p1 volume
  {left:722, width:907, top:3.2, height:1213.6},      // p2 price 5384..5344
  {left:722, width:907, top:1231.5, height:101.5},    // p2 volume
  {left:1695, width:1212, top:9.46, height:1321.84}   // p3 price 5436..5312
].map(g => Object.assign({containLabel:false, outerBoundsMode:'none', show:false}, g));

const option = {
  animation:false,
  backgroundColor:'#fff',
  grid: grids,
  xAxis:[
    valX(0, N1), catAxis(1, N1, hourlyMap),
    valX(2, N2), catAxis(3, N2, minuteMap),
    valX(4, N3), catAxis(4, N3, volMap, 4)
  ],
  yAxis:[
    priceAxis(0, 5250, 5550, 10, v => (v <= 5540 && v % 10 === 0) ? v.toFixed(2) : ''),
    priceAxis(1, 0, 100000, 40000, v => (v === 40000 || v === 80000) ? String(v) : ''),
    priceAxis(2, 5344, 5384, 1, v => (v <= 5383) ? v.toFixed(2) : ''),
    priceAxis(3, 0, 250, 100, v => (v === 100 || v === 200) ? String(v) : ''),
    priceAxis(4, 5312, 5436, 4, v => (v <= 5432) ? v.toFixed(2) : '')
  ],
  series:[
    ohlcSeries(hourlyBars, 0, 0, 1),
    {type:'bar', xAxisIndex:1, yAxisIndex:1, data:hourlyVolume, barWidth:2, itemStyle:{color:'#000'}, silent:true},
    ohlcSeries(minuteBars, 2, 2, 2),
    {type:'bar', xAxisIndex:3, yAxisIndex:3, data:minuteVolume, barWidth:2, itemStyle:{color:'#000'}, silent:true},
    ohlcSeries(volBars, 4, 4, 1),
    ...lineSeries(hourlyLines, 0, 0),
    ...lineSeries(minuteLines, 2, 2),
    ...lineSeries(volLines, 4, 4)
  ]
};

const chart = echarts.init(document.getElementById('c'), null, {renderer:'canvas'});
chart.setOption(option);

// ---------------- annotations ----------------
const mctx = document.createElement('canvas').getContext('2d');
function fit(text, target, family) {
  mctx.font = '100px ' + family;
  return 100 * target / mctx.measureText(text).width;
}
function note(text, x, yc, size, align) {
  return {type:'text', x, y:yc, z:50, style:{text, fontFamily:NOTE, fontSize:size, fill:'#000', align:align||'left', verticalAlign:'middle'}};
}
const sTitle1 = fit('Hourly.', 89, NOTE);
const sTitle2 = fit('1 Minute.', 96, NOTE);
const sTitle3 = fit('1500 volume.', 127, NOTE);
const sP1 = fit('PA is still making lower highs and lows but', 357, NOTE);
const sP2 = fit('The highs are looking weaker as PA advances.', 385, NOTE);
const sP3 = fit('Overnight PA would have one looking for a long on a retracement', 556, NOTE);

const px1 = chart.convertToPixel({xAxisIndex:0, yAxisIndex:0}, [0, lastPrice])[1];
const px2 = chart.convertToPixel({xAxisIndex:2, yAxisIndex:2}, [0, lastPrice])[1];
const px3 = chart.convertToPixel({xAxisIndex:4, yAxisIndex:4}, [0, lastPrice])[1];
function priceBox(x, yc) {
  return {type:'group', z:60, children:[
    {type:'rect', shape:{x:x, y:Math.round(yc-8), width:44, height:16}, style:{fill:'#000'}},
    {type:'text', x:x+22, y:Math.round(yc), style:{text:lastPrice.toFixed(2), fontFamily:UI, fontSize:12.5, fill:'#fff', align:'center', verticalAlign:'middle'}}
  ]};
}
const hdrRich = {
  b:{backgroundColor:'#0a7fc2', fill:'#000', color:'#000', padding:[2,1,1,1]},
  k:{backgroundColor:'#000', fill:'#fff', color:'#fff', padding:[2,1,1,1]},
  r:{backgroundColor:'#ff0000', fill:'#fff', color:'#fff', padding:[2,1,1,1]},
  g:{backgroundColor:'#00ff00', fill:'#fff', color:'#fff', padding:[2,1,1,1]}
};
function headerSize(text, target) {
  const plain = text.split('\n')[0].replace(/\{[a-z]\|([^}]*)\}/g, '$1');
  return Math.min(13, fit(plain, target, UI));
}
function header(x, y, text, target) {
  const fs = headerSize(text, target);
  const rich = {};
  Object.keys(hdrRich).forEach(k => { rich[k] = Object.assign({fontSize:fs, fontFamily:UI}, hdrRich[k]); });
  return {type:'text', x, y, z:60, style:{text, rich, fontFamily:UI, fontSize:fs, fill:'#000', lineHeight:15}};
}
function greenBox(x, w, label) {
  return {type:'group', z:70, children:[
    {type:'rect', shape:{x, y:1336, width:w, height:20}, style:{fill:'#00c000'}},
    {type:'text', x:x+w/2, y:1346, style:{text:label, fontFamily:UI, fontSize:13, fill:'#000', align:'center', verticalAlign:'middle'}}
  ]};
}
function vline(x, w, color) {
  return {type:'rect', z:65, shape:{x, y:0, width:w, height:1356}, style:{fill:color}};
}
const h1 = 'B: 5371.50 A: 5371.75 TR: 35m 29s DV: 20547';
const h2 = '{b|[Sim]  Trade: 1@5363.00} NQM7 [CV]  1 Min   #1{k|C: 5371.50} T: 17 {k|Chg: 0.00}{g|DChg: 14.00} 2017-04-17 09:24:31 H: 5371.75 L: 5371.50 O: 5371.50 V: 24 B: 5371.50 A: 5371.75 TR: 29s\n{b|DPL: 0.00P}';
const h3 = '{b|[Sim]  Trade: 1@5346.50} NQM7 [CV]  1500 Volume  #5{k|C: 5371.50} T: 810 {r|Chg: -0.75}{g|DChg: 14.00} 2017-04-17 09:24:31 H: 5373.25 L: 5369.50 O: 5372.25 V: 1107 B: 5371.50 A: 5371.75 RV:393 DV: 20547\n{b|DPL: 0.00P}';

chart.setOption({graphic:[
  // frame / separators
  {type:'rect', z:65, shape:{x:0, y:0, width:2961, height:1}, style:{fill:'#a0a0a0'}},
  vline(706, 3, '#a0a0a0'), vline(709, 6, '#f0f0f0'), vline(715, 1, '#6a6a6a'), vline(716, 2, '#c8c8c8'), vline(718, 1, '#6a6a6a'), vline(719, 2, '#f0f0f0'),
  vline(1681, 3, '#a0a0a0'), vline(1684, 4, '#f0f0f0'), vline(1688, 1, '#6a6a6a'), vline(1689, 2, '#c8c8c8'), vline(1691, 1, '#6a6a6a'), vline(1692, 2, '#f0f0f0'),
  vline(2955, 6, '#c8c8c8'),
  // headers
  {type:'text', x:2, y:3, z:60, style:{text:h1, fontFamily:UI, fontSize:Math.min(13, fit(h1, 228, UI)), fill:'#000'}},
  header(723, 2, h2, 900),
  header(1695, 2, h3, 1012),
  // notes
  note('Hourly.', 323, 142, sTitle1, 'center'),
  note('PA is still making lower highs and lows but', 138, 166, sP1),
  note('the lows are not advancing as easily.', 139, 194, sP1),
  note('1 Minute.', 1166, 85, sTitle2, 'center'),
  note('The highs are looking weaker as PA advances.', 1205, 157, sP2, 'center'),
  note('1500 volume.', 2213, 85, sTitle3, 'center'),
  note('Overnight PA would have one looking for a long on a retracement', 2318, 490, sP3),
  note('after a stride break, overhead resistance at 5376 and 5400.', 2318, 518, sP3),
  {type:'text', x:729, y:1226, z:60, style:{text:'Volume  Volume: 24', fontFamily:UI, fontSize:12.5, fill:'#000'}},
  // last price boxes
  priceBox(662, px1), priceBox(1632, px2), priceBox(2910, px3),
  greenBox(693, 14, '2'), greenBox(1667, 14, '3'), greenBox(2946, 15, '3')
]});
</script></body></html>
